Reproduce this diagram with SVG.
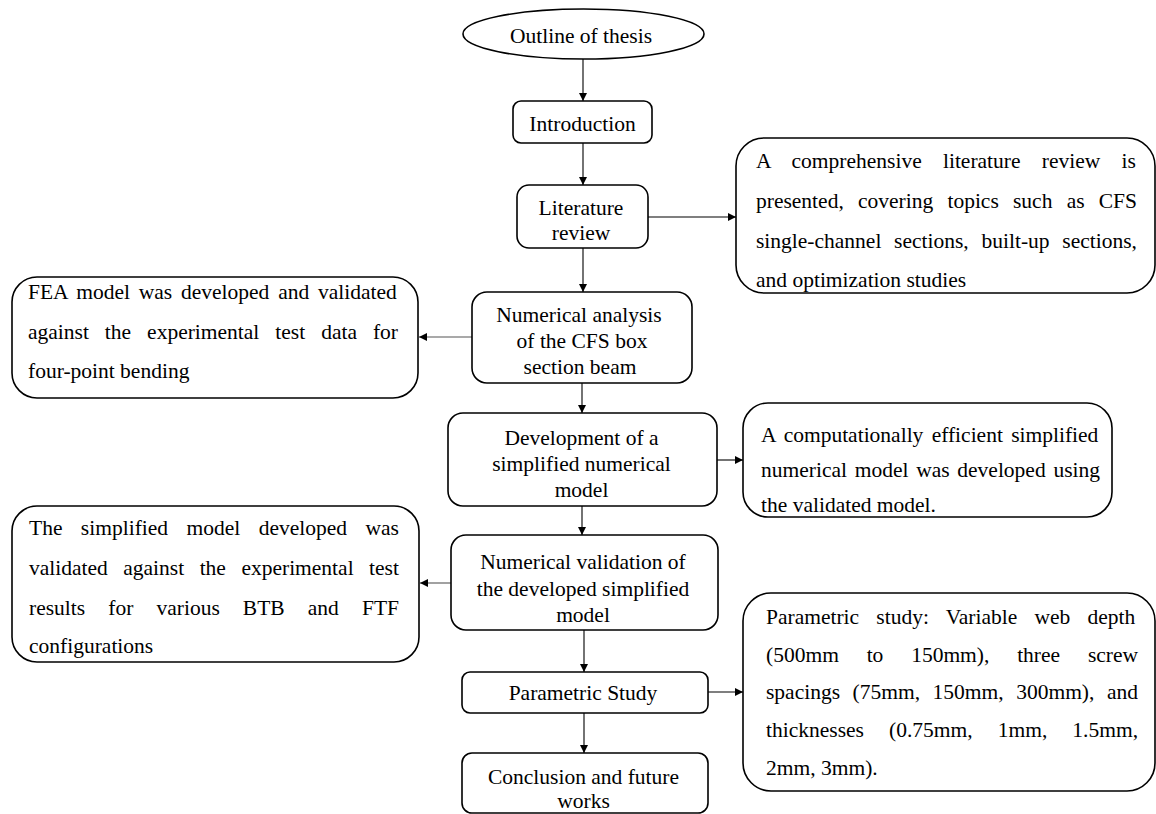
<svg xmlns="http://www.w3.org/2000/svg" width="1156" height="814" viewBox="0 0 1156 814">
<defs>
<style>
.box{fill:#fff;stroke:#000;stroke-width:1.6}
.t{font-family:"Liberation Serif","Times New Roman",serif;font-size:21.5px;fill:#000}
.c{text-anchor:middle}
.v{stroke:#000;stroke-width:1.1;fill:none}
.h{stroke:#555;stroke-width:1.1;fill:none}
</style>
<marker id="ah" viewBox="0 0 10 10" refX="10" refY="5" markerWidth="8" markerHeight="8" markerUnits="userSpaceOnUse" orient="auto">
<path d="M0,0 L10,5 L0,10 z" fill="#000"/>
</marker>
</defs>
<rect width="1156" height="814" fill="#fff"/>
<g id="connectors">
<line class="v" x1="583" y1="59" x2="583" y2="101" marker-end="url(#ah)"/>
<line class="v" x1="583" y1="143" x2="583" y2="185" marker-end="url(#ah)"/>
<line class="v" x1="648" y1="217" x2="736" y2="217" marker-end="url(#ah)"/>
<line class="v" x1="583" y1="248" x2="583" y2="292" marker-end="url(#ah)"/>
<line class="h" x1="472" y1="337" x2="419" y2="337" marker-end="url(#ah)"/>
<line class="v" x1="582" y1="383" x2="582" y2="413" marker-end="url(#ah)"/>
<line class="v" x1="717" y1="460" x2="743" y2="460" marker-end="url(#ah)"/>
<line class="v" x1="582" y1="506" x2="582" y2="535" marker-end="url(#ah)"/>
<line class="h" x1="451" y1="583" x2="420" y2="583" marker-end="url(#ah)"/>
<line class="v" x1="584" y1="630" x2="584" y2="672" marker-end="url(#ah)"/>
<line class="v" x1="708" y1="692" x2="743" y2="692" marker-end="url(#ah)"/>
<line class="v" x1="584" y1="713" x2="584" y2="753" marker-end="url(#ah)"/>
</g>
<g id="outline">
<ellipse class="box" cx="583.5" cy="34" rx="120.5" ry="25"/>
<text class="t c" x="581" y="43">Outline of thesis</text>
</g>
<g id="introduction">
<rect class="box" x="513" y="101" width="139" height="42" rx="8"/>
<text class="t c" x="582.5" y="131">Introduction</text>
</g>
<g id="literature">
<rect class="box" x="517" y="185" width="131" height="63" rx="12"/>
<text class="t c" x="581" y="215">Literature</text>
<text class="t c" x="581" y="240">review</text>
</g>
<g id="literature-note">
<rect class="box" x="736" y="138" width="419" height="155" rx="28"/>
<text class="t" x="756" y="168" word-spacing="15.85">A comprehensive literature review is</text>
<text class="t" x="756" y="208" word-spacing="8.85">presented, covering topics such as CFS</text>
<text class="t" x="756" y="248" word-spacing="7.35">single-channel sections, built-up sections,</text>
<text class="t" x="756" y="287">and optimization studies</text>
</g>
<g id="numerical-analysis">
<rect class="box" x="472" y="292" width="220" height="91" rx="15"/>
<text class="t c" x="579" y="322">Numerical analysis</text>
<text class="t c" x="582" y="348">of the CFS box</text>
<text class="t c" x="580" y="374">section beam</text>
</g>
<g id="fea-note">
<rect class="box" x="12" y="277" width="406" height="121" rx="25"/>
<text class="t" x="28" y="299" word-spacing="3.43">FEA model was developed and validated</text>
<text class="t" x="28" y="339" word-spacing="10.6">against the experimental test data for</text>
<text class="t" x="28" y="378">four-point bending</text>
</g>
<g id="development">
<rect class="box" x="448" y="413" width="269" height="93" rx="15"/>
<text class="t c" x="581.5" y="445">Development of a</text>
<text class="t c" x="581.5" y="471">simplified numerical</text>
<text class="t c" x="581.5" y="497">model</text>
</g>
<g id="computational-note">
<rect class="box" x="743" y="403" width="369" height="114" rx="25"/>
<text class="t" x="761" y="442" word-spacing="2.92">A computationally efficient simplified</text>
<text class="t" x="761" y="477" word-spacing="2.35">numerical model was developed using</text>
<text class="t" x="761" y="512">the validated model.</text>
</g>
<g id="numerical-validation">
<rect class="box" x="451" y="535" width="267" height="95" rx="15"/>
<text class="t c" x="583" y="569">Numerical validation of</text>
<text class="t c" x="583" y="596">the developed simplified</text>
<text class="t c" x="583" y="622">model</text>
</g>
<g id="validation-note">
<rect class="box" x="12" y="506" width="407" height="156" rx="25"/>
<text class="t" x="29" y="535" word-spacing="13.07">The simplified model developed was</text>
<text class="t" x="29" y="575" word-spacing="10.1">validated against the experimental test</text>
<text class="t" x="29" y="615" word-spacing="17.75">results for various BTB and FTF</text>
<text class="t" x="29" y="653">configurations</text>
</g>
<g id="parametric">
<rect class="box" x="462" y="672" width="246" height="41" rx="8"/>
<text class="t c" x="583" y="700">Parametric Study</text>
</g>
<g id="parametric-note">
<rect class="box" x="743" y="593" width="412" height="198" rx="28"/>
<text class="t" x="766" y="624" word-spacing="11.8">Parametric study: Variable web depth</text>
<text class="t" x="766" y="662" word-spacing="22.4">(500mm to 150mm), three screw</text>
<text class="t" x="766" y="699" word-spacing="7.15">spacings (75mm, 150mm, 300mm), and</text>
<text class="t" x="766" y="737" word-spacing="19.7">thicknesses (0.75mm, 1mm, 1.5mm,</text>
<text class="t" x="766" y="775">2mm, 3mm).</text>
</g>
<g id="conclusion">
<rect class="box" x="462" y="753" width="246" height="60" rx="10"/>
<text class="t c" x="583.5" y="784">Conclusion and future</text>
<text class="t c" x="583.5" y="808">works</text>
</g>
</svg>
